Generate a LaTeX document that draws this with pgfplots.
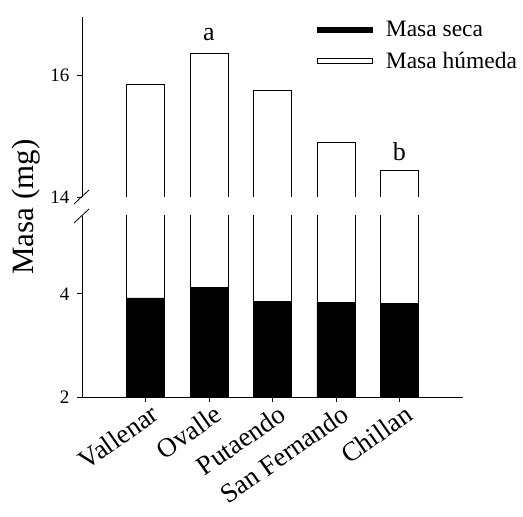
\documentclass[border=0pt]{standalone}
\usepackage{fontspec}
\setmainfont{Liberation Serif}
\usepackage{pgfplots}
\pgfplotsset{compat=1.18}

\pgfplotsset{
  brk/.style={
    scale only axis, width=381pt,
    xmin=-1, xmax=5,
    axis y line*=left,
    axis line style={-, line width=0.8pt},
    tick align=outside,
    major tick length=5pt,
    tick style={black, line width=0.8pt},
    /pgf/number format/assume math mode=true,
    yticklabel style={font=\fontsize{19}{22}\selectfont, xshift=-4pt},
    ybar, bar width=38pt, bar shift=0pt,
    anchor=south west,
  },
}

\begin{document}
\begin{tikzpicture}
\path[use as bounding box] (0pt,0pt) rectangle (523pt,517pt);

% lower panel, 2 to 5.5
\begin{axis}[brk, name=lower, at={(82pt,120pt)}, height=181pt,
  ymin=2, ymax=5.51, ytick={2,4},
  axis x line*=bottom,
  xtick={0,1,2,3,4},
  xticklabels={Vallenar,Ovalle,Putaendo,San Fernando,Chillan},
  x tick label style={rotate=35, anchor=north east, xshift=6pt,
    font=\fontsize{27}{30}\selectfont},
]
\addplot[fill=white, draw=black, line width=0.8pt]
  coordinates {(0,15.84) (1,16.36) (2,15.74) (3,14.89) (4,14.44)};
\addplot[fill=black, draw=black, line width=0.8pt]
  coordinates {(0,3.92) (1,4.12) (2,3.86) (3,3.84) (4,3.82)};
\end{axis}

% upper panel, 14 to 17
\begin{axis}[brk, name=upper, at={(82pt,320pt)}, height=180pt,
  ymin=14, ymax=16.95, ytick={14,16},
  axis x line=none,
  legend style={draw=none, fill=none, at={(0.617,0.99)}, anchor=north west,
    font=\fontsize{23.5}{27}\selectfont, row sep=10pt, column sep=11pt,
    inner sep=0pt},
  legend cell align=left,
]
\addplot[fill=white, draw=black, line width=0.8pt, forget plot]
  coordinates {(0,15.84) (1,16.36) (2,15.74) (3,14.89) (4,14.44)};
\addlegendimage{legend image code/.code={
  \draw[fill=black, draw=black, line width=0.6pt] (0pt,-2.5pt) rectangle (55pt,2.5pt);}}
\addlegendentry{Masa seca}
\addlegendimage{legend image code/.code={
  \draw[fill=white, draw=black, line width=0.6pt] (0pt,-2.5pt) rectangle (55pt,2.5pt);}}
\addlegendentry{Masa húmeda}
\node[font=\fontsize{26}{28}\selectfont] at (axis cs:1,16.66) {a};
\node[font=\fontsize{26}{28}\selectfont] at (axis cs:4,14.75) {b};
\end{axis}

% break marks
\draw[line width=0.8pt] (lower.north west) ++(-8pt,-7pt) -- ++(15pt,14pt);
\draw[line width=0.8pt] (upper.south west) ++(-8pt,-7pt) -- ++(15pt,14pt);

\node[rotate=90, font=\fontsize{31}{34}\selectfont] at (26pt,310pt) {Masa (mg)};
\end{tikzpicture}
\end{document}
